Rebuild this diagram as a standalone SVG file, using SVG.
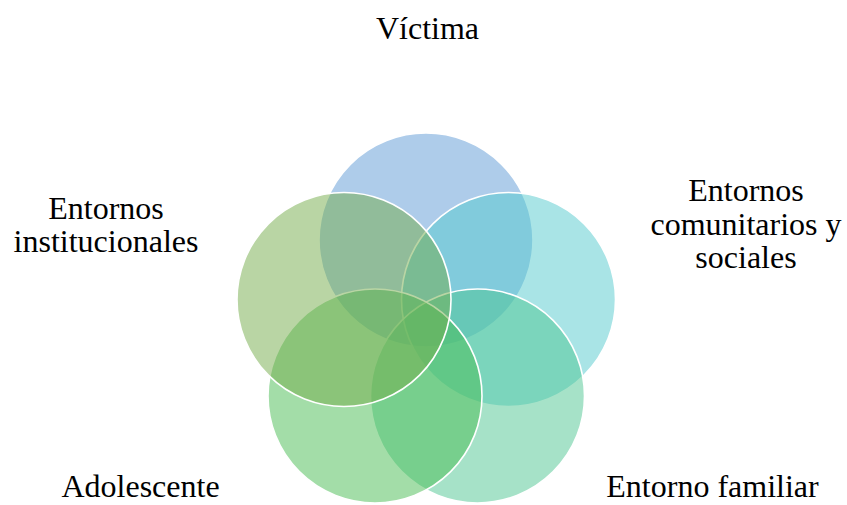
<svg xmlns="http://www.w3.org/2000/svg" width="847" height="505" viewBox="0 0 847 505">
<style>
.c{fill-opacity:0.5;stroke:#fff;stroke-width:1.6}
.t{font-family:"Liberation Serif","Times New Roman",serif;font-size:32px;fill:#000;text-anchor:middle}
</style>
<rect width="847" height="505" fill="#fff"/>
<g id="victima"><circle class="c" cx="426" cy="240" r="107" fill="#5D99D5"/></g>
<g id="comunitarios"><circle class="c" cx="508.5" cy="299.5" r="107" fill="#53C9CD"/></g>
<g id="familiar"><circle class="c" cx="477.5" cy="396" r="107" fill="#4DC591"/></g>
<g id="adolescente"><circle class="c" cx="375" cy="396" r="107" fill="#47BB51"/></g>
<g id="institucionales"><circle class="c" cx="344" cy="299.5" r="107" fill="#73AB49"/></g>
<g id="labels">
<text class="t" x="427.5" y="39">Víctima</text>
<text class="t" x="106" y="219">Entornos</text>
<text class="t" x="106" y="252">institucionales</text>
<text class="t" x="746" y="201">Entornos</text>
<text class="t" x="746" y="235">comunitarios y</text>
<text class="t" x="746" y="268">sociales</text>
<text class="t" x="140.5" y="497">Adolescente</text>
<text class="t" x="712.5" y="497">Entorno familiar</text>
</g>
<g id="connectors"/>
</svg>
